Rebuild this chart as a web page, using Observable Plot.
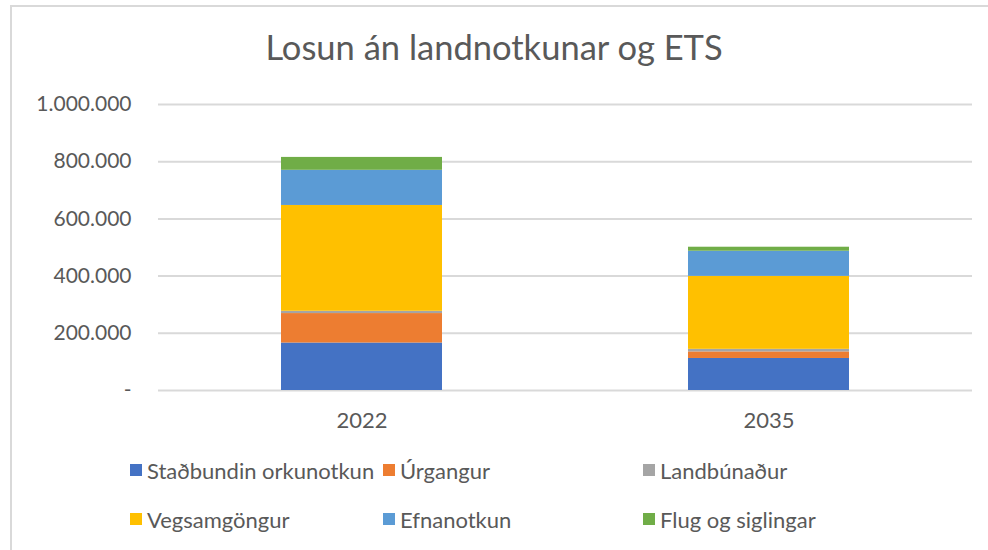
<!DOCTYPE html>
<html>
<head>
<meta charset="utf-8">
<script src="https://cdn.jsdelivr.net/npm/d3@7"></script>
<script src="https://cdn.jsdelivr.net/npm/@observablehq/plot@0.6"></script>
<style>
  html, body { margin: 0; padding: 0; background: #fff; }
  body { width: 988px; height: 550px; position: relative; overflow: hidden; font-family: Lato, "Open Sans", sans-serif; }
  #frame { position: absolute; left: 10px; top: 5px; width: 1000px; height: 600px; border-left: 2px solid #d9d9d9; border-top: 2px solid #d9d9d9; }
  #title { position: absolute; left: 0; width: 988px; top: 26px; text-align: center; font-size: 34.5px; color: #595959; }
  #chart { position: absolute; left: 0; top: 80px; }
  .leg { position: absolute; display: flex; align-items: center; font-size: 22px; color: #595959; white-space: nowrap; }
  .leg span.sw { display: inline-block; width: 12px; height: 12px; margin-right: 5px; }
</style>
</head>
<body>
<div id="frame"></div>
<div id="title">Losun án landnotkunar og ETS</div>
<div id="chart"></div>
<div id="legend"></div>
<script>
const years = ["2022", "2035"];
const seriesNames = ["Staðbundin orkunotkun", "Úrgangur", "Landbúnaður", "Vegsamgöngur", "Efnanotkun", "Flug og siglingar"];
const seriesColors = ["#4472C4", "#ED7D31", "#A5A5A5", "#FFC000", "#5B9BD5", "#70AD47"];
const stadbundin = [166000, 112000];
const urgangur = [103000, 23000];
const landbunadur = [8000, 9000];
const vegsamgongur = [370000, 255000];
const efnanotkun = [123000, 88000];
const flug = [45000, 14000];
const yTicks = [0, 200000, 400000, 600000, 800000, 1000000];

const seriesValues = [stadbundin, urgangur, landbunadur, vegsamgongur, efnanotkun, flug];
const table = [];
seriesNames.forEach((name, i) => {
  years.forEach((yr, j) => table.push({year: yr, series: name, value: seriesValues[i][j]}));
});

const is = d3.formatLocale({decimal: ",", thousands: ".", grouping: [3], currency: ["", ""]});
const fmt = v => v === 0 ? "-" : is.format(",")(v);

const chart = Plot.plot({
  width: 988,
  height: 360,
  marginTop: 24,
  marginBottom: 50,
  marginLeft: 158,
  marginRight: 16,
  style: {fontFamily: "Lato, 'Open Sans', sans-serif", fontSize: "21px", color: "#595959", background: "transparent"},
  x: {domain: years, paddingInner: 0.604, paddingOuter: 0.302, label: null},
  y: {domain: [0, 1000000], label: null},
  color: {domain: seriesNames, range: seriesColors},
  marks: [
    Plot.gridY(yTicks, {stroke: "#d9d9d9", strokeOpacity: 1, strokeWidth: 2}),
    Plot.barY(table, {x: "year", y: "value", fill: "series", order: seriesNames}),
    Plot.axisY(yTicks, {tickSize: 0, tickPadding: 27, tickFormat: fmt, fill: "#595959", fontSize: 21, label: null}),
    Plot.axisX({tickSize: 0, tickPadding: 22, fill: "#595959", fontSize: 22, label: null})
  ]
});
document.getElementById("chart").appendChild(chart);

const legPos = [[130, 470], [383, 470], [643, 470], [130, 519], [383, 519], [643, 519]];
const legend = document.getElementById("legend");
seriesNames.forEach((name, i) => {
  const d = document.createElement("div");
  d.className = "leg";
  d.style.left = legPos[i][0] + "px";
  d.style.top = (legPos[i][1] - 13) + "px";
  d.style.height = "26px";
  d.innerHTML = `<span class="sw" style="background:${seriesColors[i]}"></span>${name}`;
  legend.appendChild(d);
});
</script>
</body>
</html>
